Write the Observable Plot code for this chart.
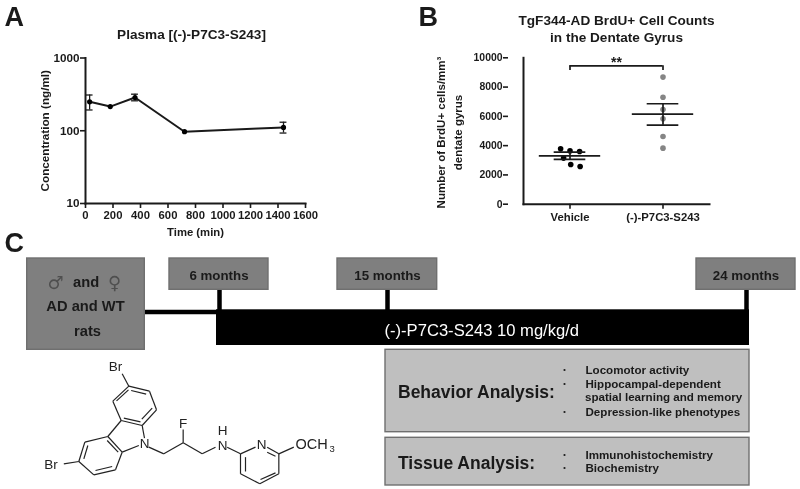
<!DOCTYPE html>
<html>
<head>
<meta charset="utf-8">
<script src="https://cdn.jsdelivr.net/npm/d3@7"></script>
<script src="https://cdn.jsdelivr.net/npm/@observablehq/plot@0.6"></script>
<style>
html,body{margin:0;padding:0;background:#fff}
#fig{position:relative;width:800px;height:489px;overflow:hidden;filter:blur(.4px)}
#fig svg{position:absolute;top:0;background:transparent}
</style>
</head>
<body>
<div id="fig"></div>
<script>
const FONT = "'Liberation Sans', Arial, sans-serif";
const INK = "#1a1a1a";

// Panel A data
const pkTime = [30, 180, 360, 720, 1440];
const pkMean = [250, 215, 286, 97, 111];
const pkLow  = [193, 215, 258, 97, 93];
const pkHigh = [310, 215, 318, 97, 131];

// Panel B data
const groups = ["Vehicle", "(-)-P7C3-S243"];
const vehicleCounts = [3640, 3780, 3600, 3150, 2710, 2575];
const drugCounts = [8680, 7310, 6470, 5830, 4620, 3830];
const groupMean = [3300, 6150];
const groupLow = [3060, 5400];
const groupHigh = [3560, 6860];

// Panel C text
const timepoints = ["6 months", "15 months", "24 months"];
const behaviorItems = ["Locomotor activity", "Hippocampal-dependent", "spatial learning and memory", "Depression-like phenotypes"];
const tissueItems = ["Immunohistochemistry", "Biochemistry"];

/* ---------- schematic layout (page coordinates) ---------- */
const boxes = [
  {x1:26.7,x2:144.3,y1:258,y2:349.3,fill:"#7f7f7f"},
  {x1:169,x2:268,y1:258,y2:289.3,fill:"#7f7f7f"},
  {x1:337,x2:436.7,y1:258,y2:289.3,fill:"#7f7f7f"},
  {x1:696,x2:795,y1:258,y2:289.3,fill:"#7f7f7f"},
  {x1:385,x2:749,y1:349.3,y2:431.7,fill:"#bfbfbf"},
  {x1:385,x2:749,y1:437.3,y2:485,fill:"#bfbfbf"}
];
const stemX = [219, 387, 746];
const labelsStart = [
  {t:"A",x:4,y:17,s:27},{t:"B",x:418,y:17,s:27},{t:"C",x:4,y:243,s:27},
  {t:"Behavior Analysis:",x:397.5,y:392,s:17.5},
  {t:"Tissue Analysis:",x:397.5,y:462.5,s:17.5},
  {t:behaviorItems[0],x:585,y:370,s:11.6},
  {t:behaviorItems[1],x:585,y:383.5,s:11.6},
  {t:behaviorItems[2],x:584.5,y:396.5,s:11.6},
  {t:behaviorItems[3],x:585,y:411.5,s:11.6},
  {t:tissueItems[0],x:585,y:455,s:11.6},
  {t:tissueItems[1],x:585,y:468,s:11.6}
];
const labelsMiddle = [
  {t:"Plasma [(-)-P7C3-S243]",x:191,y:34,s:13.6},
  {t:"TgF344-AD BrdU+ Cell Counts",x:616,y:20.5,s:13.6},
  {t:"in the Dentate Gyrus",x:616,y:37,s:13.6},
  {t:"and",x:85.6,y:282,s:14.7},
  {t:"AD and WT",x:85,y:306,s:14.7},
  {t:"rats",x:87,y:331,s:14.7},
  {t:timepoints[0],x:218.5,y:275,s:13.3},
  {t:timepoints[1],x:387,y:275,s:13.3},
  {t:timepoints[2],x:745.5,y:275,s:13.3}
];
const bLabels = [
  {t:"Number of BrdU+ cells/mm³",x:441},
  {t:"dentate gyrus",x:458}
];
const bulletY = [369.5, 383.5, 411.5, 454.5, 467.5];
const atomLabels = [
  {t:"Br",x:115,y:366.5},{t:"Br",x:50.5,y:464},{t:"N",x:144,y:443},{t:"F",x:182.5,y:423},
  {t:"H",x:222,y:430},{t:"N",x:222,y:445},{t:"N",x:261,y:444}
];
// molecule bonds [x1,y1,x2,y2] in reference zoom units (3x, origin at y=225)
const bondsRaw = [
  [365,445,385,482],[385,482,447,497],[447,497,468,553],[468,553,425,600],[425,600,362,585],[362,585,337,527],[337,527,385,482],
  [392,495,437,506],[455,548,424,581],[348,526,384,493],[370,578,420,589],
  [425,600,432,638],[362,585,322,633],[322,633,253,650],[253,650,235,708],[235,708,280,748],[280,748,345,733],[345,733,365,680],[365,680,322,633],[365,680,415,660],
  [262,660,250,700],[285,735,335,723],[353,680,320,645],[190,715,235,708],
  [445,665,490,685],[490,685,548,652],[548,652,605,685],[548,652,548,612],[605,685,645,665],
  [680,665,720,685],[720,685,765,665],[800,665,835,685],[835,685,835,745],[835,745,778,775],[778,775,720,745],[720,745,720,685],
  [735,695,735,738],[825,742,780,762],[800,680,825,692],[835,685,880,665]
];
const bonds = bondsRaw.map(([a,b,c,d]) => ({x1:a/3,y1:b/3+225,x2:c/3,y2:d/3+225}));

const layout = Plot.plot({
  width:800,height:489,margin:0,
  x:{domain:[0,800],range:[0,800],axis:null},
  y:{domain:[0,489],range:[0,489],axis:null},
  style:{background:"transparent",fontFamily:FONT},
  marks:[
    Plot.ruleY([311.5],{x1:144,x2:218,stroke:"#000",strokeWidth:4.5}),
    Plot.ruleX(stemX,{y1:289,y2:310,stroke:"#000",strokeWidth:4.5}),
    Plot.rect([{x1:216,x2:749,y1:309.3,y2:345}],{x1:"x1",x2:"x2",y1:"y1",y2:"y2",fill:"#000"}),
    Plot.rect(boxes,{x1:"x1",x2:"x2",y1:"y1",y2:"y2",fill:"fill",stroke:"#6f6f6f",strokeWidth:1.4}),
    Plot.link(bonds,{x1:"x1",y1:"y1",x2:"x2",y2:"y2",stroke:"#222",strokeWidth:1.2}),
    Plot.text(labelsStart,{x:"x",y:"y",text:"t",fontSize:"s",textAnchor:"start",fontWeight:"bold",fill:INK,lineAnchor:"middle"}),
    Plot.text(labelsMiddle,{x:"x",y:"y",text:"t",fontSize:"s",textAnchor:"middle",fontWeight:"bold",fill:INK,lineAnchor:"middle"}),
    Plot.text(bLabels,{x:"x",y:()=>132,text:"t",rotate:-90,fontSize:11.5,textAnchor:"middle",fontWeight:"bold",fill:INK,lineAnchor:"middle"}),
    Plot.text([{t:"♂",x:55},{t:"♀",x:114}],{x:"x",y:()=>283,text:"t",fontSize:18,fontFamily:"'DejaVu Sans'",fill:"#4f4f4f",lineAnchor:"middle"}),
    Plot.text(["(-)-P7C3-S243 10 mg/kg/d"],{x:()=>384,y:()=>330.5,text:d=>d,fontSize:16.6,fill:"#fff",textAnchor:"start",lineAnchor:"middle"}),
    Plot.dot(bulletY,{x:()=>564,y:d=>d,r:1.1,fill:INK}),
    Plot.text(atomLabels,{x:"x",y:"y",text:"t",fontSize:13.5,fill:"#222",lineAnchor:"middle"}),
    Plot.text(["OCH"],{x:()=>295,y:()=>444,text:d=>d,fontSize:14.5,fill:"#222",textAnchor:"start",lineAnchor:"middle"}),
    Plot.text(["3"],{x:()=>329,y:()=>448,text:d=>d,fontSize:9.5,fill:"#222",textAnchor:"start",lineAnchor:"middle"})
  ]
});

/* ---------- Panel A ---------- */
const pk = pkTime.map((t,i)=>({t,mean:pkMean[i],low:pkLow[i],high:pkHigh[i]}));
const pkErr = pk.filter(d=>d.high!==d.low);
const capMin = 25;
const panelA = Plot.plot({
  width:330,height:245,marginLeft:85,marginRight:25,marginTop:57.5,marginBottom:42,
  style:{background:"transparent",fontFamily:FONT,fontSize:"10px",fontWeight:"bold",color:INK},
  x:{domain:[0,1600]},
  y:{type:"log",domain:[10,1000]},
  marks:[
    Plot.frame({anchor:"left",stroke:INK,strokeWidth:2}),
    Plot.frame({anchor:"bottom",stroke:INK,strokeWidth:2}),
    Plot.axisX({ticks:d3.range(0,1601,200),tickSize:5,tickPadding:2,tickFormat:d=>String(d),strokeWidth:1.6,label:"Time (min)",labelAnchor:"center",labelArrow:"none",labelOffset:32,fontSize:11.3}),
    Plot.axisY({ticks:[10,100,1000],tickSize:5,tickPadding:1,tickFormat:d=>String(d),strokeWidth:1.6,label:"Concentration (ng/ml)",labelAnchor:"center",labelArrow:"none",labelOffset:45,fontSize:11.7}),
    Plot.line(pk,{x:"t",y:"mean",stroke:INK,strokeWidth:2}),
    Plot.ruleX(pkErr,{x:"t",y1:"low",y2:"high",stroke:INK,strokeWidth:1.3}),
    Plot.ruleY(pkErr,{y:"low",x1:d=>d.t-capMin,x2:d=>d.t+capMin,stroke:INK,strokeWidth:1.3}),
    Plot.ruleY(pkErr,{y:"high",x1:d=>d.t-capMin,x2:d=>d.t+capMin,stroke:INK,strokeWidth:1.3}),
    Plot.dot(pk,{x:"t",y:"mean",r:2.6,fill:"#000"})
  ]
});
panelA.style.left="0px";

/* ---------- Panel B ---------- */
const vehicleDots = vehicleCounts.map(v=>({group:groups[0],v}));
const drugDots = drugCounts.map(v=>({group:groups[1],v}));
const summary = groups.map((group,i)=>({group,mean:groupMean[i],low:groupLow[i],high:groupHigh[i]}));
const meanHalf = .66, semHalf = .34;
const bracketTop = 9450, bracketFoot = 9130;
const bandInset = 15; // distance from the plot's left edge to the first category band
const panelB = Plot.plot({
  width:320,height:225,marginLeft:97,marginRight:5,marginTop:57.3,marginBottom:21.3,
  style:{background:"transparent",fontFamily:FONT,fontSize:"10px",fontWeight:"bold",color:INK},
  fx:{domain:groups,paddingInner:0,paddingOuter:.16,axis:null},
  x:{domain:[-1,1],axis:null},
  y:{domain:[0,10000]},
  marks:[
    Plot.frame({anchor:"left",stroke:INK,strokeWidth:2,facet:"super"}),
    Plot.frame({anchor:"bottom",stroke:INK,strokeWidth:2,facet:"super"}),
    Plot.axisFx({anchor:"bottom",tickSize:5,tickPadding:4,strokeWidth:1.6,label:null,fontSize:11.3}),
    Plot.axisY({dx:-bandInset,ticks:d3.range(0,10001,2000),tickSize:5,tickPadding:1,strokeWidth:1.6,tickFormat:d=>String(d),label:null,fontSize:10.4}),
    Plot.dot(vehicleDots,Plot.dodgeX({anchor:"middle",padding:4},{fx:"group",y:"v",r:2.8,fill:"#000"})),
    Plot.dot(drugDots,Plot.dodgeX({anchor:"middle",padding:1},{fx:"group",y:"v",r:2.8,fill:"#858585"})),
    Plot.ruleY(summary,{fx:"group",y:"mean",x1:-meanHalf,x2:meanHalf,stroke:INK,strokeWidth:1.7}),
    Plot.ruleY(summary,{fx:"group",y:"low",x1:-semHalf,x2:semHalf,stroke:INK,strokeWidth:1.7}),
    Plot.ruleY(summary,{fx:"group",y:"high",x1:-semHalf,x2:semHalf,stroke:INK,strokeWidth:1.7}),
    Plot.ruleX(summary,{fx:"group",x:()=>0,y1:"low",y2:"high",stroke:INK,strokeWidth:1.7}),
    // significance bracket, one half per facet
    Plot.ruleY([{group:groups[0],a:0,b:1},{group:groups[1],a:-1,b:0}],{fx:"group",y:()=>bracketTop,x1:"a",x2:"b",stroke:INK,strokeWidth:1.7}),
    Plot.ruleX(groups,{fx:d=>d,x:()=>0,y1:()=>bracketFoot,y2:()=>bracketTop,stroke:INK,strokeWidth:1.7}),
    Plot.text([groups[0]],{fx:d=>d,x:()=>1,y:()=>9700,text:()=>"**",fontSize:14,fill:INK})
  ]
});
panelB.style.left="410px";

const fig = document.getElementById("fig");
fig.append(layout,panelA,panelB);
</script>
</body>
</html>
